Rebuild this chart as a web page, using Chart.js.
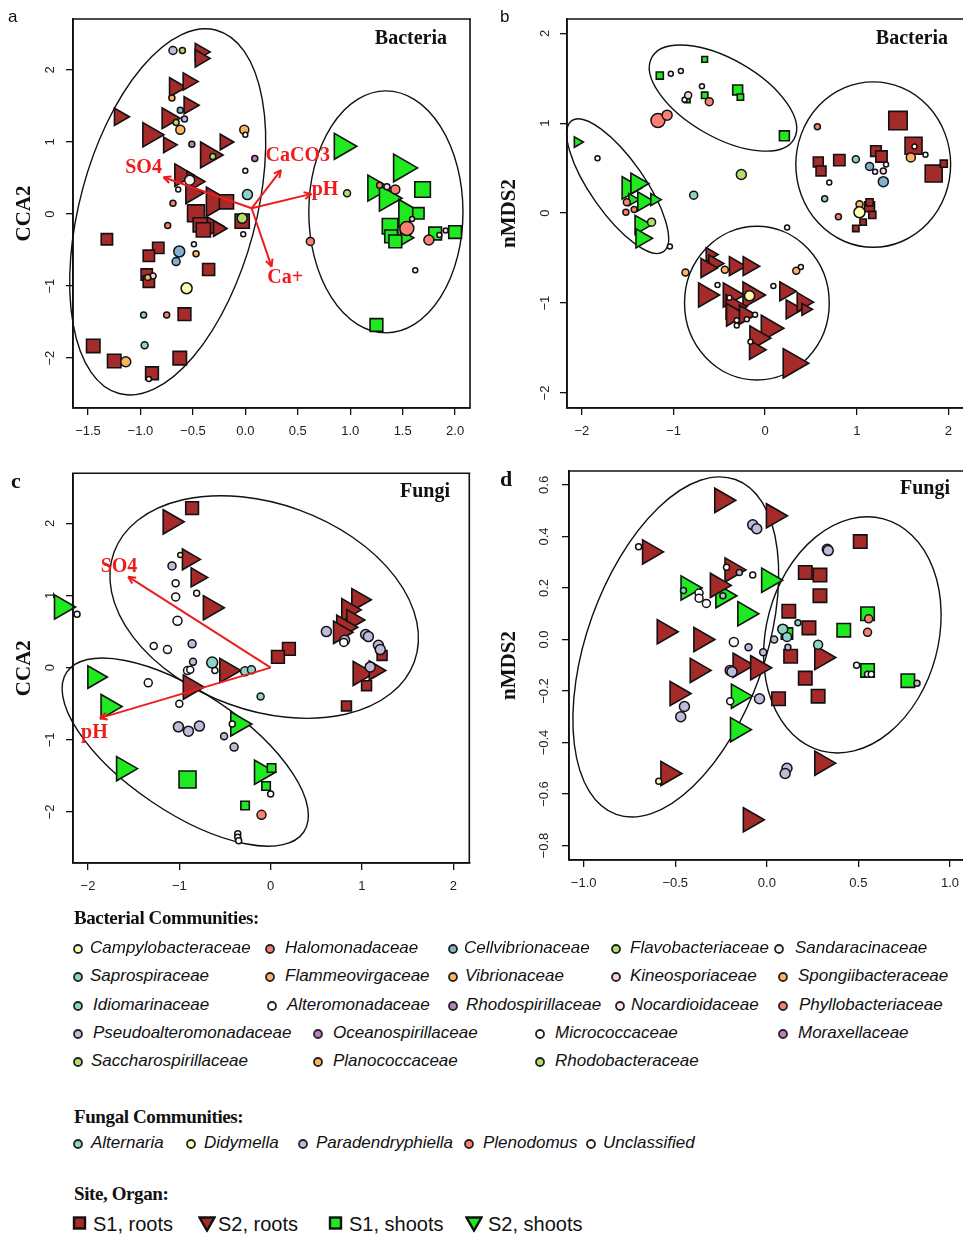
<!DOCTYPE html>
<html>
<head>
<meta charset="utf-8">
<script src="https://cdn.jsdelivr.net/npm/chart.js@4.4.1/dist/chart.umd.min.js"></script>
<style>
  html, body { margin: 0; padding: 0; background: #fff; overflow: hidden; }
  body { position: relative; width: 963px; height: 1235px; }
  canvas { position: absolute; }
  .tag { position: absolute; line-height: 1; color: #111; }
  .sans { font-family: 'Liberation Sans', Arial, sans-serif; }
  .serifb { font-family: 'Liberation Serif', 'Times New Roman', serif; font-weight: bold; }
  .head { position: absolute; left: 74px; font-family: 'Liberation Serif', serif; font-weight: bold;
          font-size: 19px; letter-spacing: -0.4px; color: #111; transform: translateY(-50%); white-space: nowrap; }
  .item { position: absolute; font-family: 'Liberation Sans', Arial, sans-serif; font-style: italic;
          font-size: 17px; color: #111; transform: translateY(-50%); white-space: nowrap; }
  .site { position: absolute; font-family: 'Liberation Sans', Arial, sans-serif;
          font-size: 20px; color: #111; transform: translateY(-50%); white-space: nowrap; }
  .glyph { position: absolute; transform: translateY(-50%); }
</style>
</head>
<body>
<canvas id="pa" width="480" height="455" style="left:0;top:0"></canvas>
<canvas id="pb" width="483" height="455" style="left:480px;top:0"></canvas>
<canvas id="pc" width="480" height="455" style="left:0;top:455px"></canvas>
<canvas id="pd" width="483" height="455" style="left:480px;top:455px"></canvas>
<div class="tag sans" style="left:8px;top:8px;font-size:17px">a</div>
<div class="tag sans" style="left:500px;top:8px;font-size:17px">b</div>
<div class="tag serifb" style="left:11px;top:470px;font-size:22px">c</div>
<div class="tag serifb" style="left:500px;top:468px;font-size:22px">d</div>
<div id="legend"></div>
<script>
// ---------- colours ----------
const BROWN = '#A52A2A';
const GREEN = '#1FEA1F';
const famColors = {
  Campylobacteraceae: '#FFFFB3', Halomonadaceae: '#FB8072', Cellvibrionaceae: '#80B1D3',
  Flavobacteriaceae: '#B3DE69', Sandaracinaceae: '#F2F2F2', Saprospiraceae: '#8DD3C7',
  Flammeovirgaceae: '#FDB462', Vibrionaceae: '#FDB462', Kineosporiaceae: '#FCCDE5',
  Spongiibacteraceae: '#FDB462', Idiomarinaceae: '#8DD3C7', Alteromonadaceae: '#FFFFFF',
  Rhodospirillaceae: '#BC80BD', Nocardioidaceae: '#FDE6F1', Phyllobacteriaceae: '#FB8072',
  Pseudoalteromonadaceae: '#BEBADA', Oceanospirillaceae: '#BC80BD', Micrococcaceae: '#FFFFFF',
  Moraxellaceae: '#BC80BD', Saccharospirillaceae: '#B3DE69', Planococcaceae: '#FDB462',
  Rhodobacteraceae: '#B3DE69',
  Alternaria: '#8DD3C7', Didymella: '#FFFFB3', Paradendryphiella: '#BEBADA',
  Plenodomus: '#FB8072', Unclassified: '#FFFFFF'
};

// ---------- panel a : CCA, bacteria ----------
const aXTicks = [-1.5, -1, -0.5, 0, 0.5, 1, 1.5, 2];
const aXLabels = ['\u22121.5', '\u22121.0', '\u22120.5', '0.0', '0.5', '1.0', '1.5', '2.0'];
const aYTicks = [-2, -1, 0, 1, 2];
const aYLabels = ['\u22122', '\u22121', '0', '1', '2'];
const aS1Roots = [[-0.18,0.17],[-0.47,0.01],[-0.43,-0.15],[-0.40,-0.22],[-0.03,-0.10],[-1.32,-0.35],[-0.83,-0.47],
  [-0.92,-0.58],[-0.35,-0.77],[-0.94,-0.84],[-0.92,-0.94],[-0.58,-1.39],[-1.45,-1.83],[-1.25,-2.04],[-0.625,-2.00],[-0.89,-2.21]];
const aS2Roots = [[-0.43,2.25],[-0.43,2.16],[-0.67,1.76],[-0.545,1.84],[-0.536,1.51],[-1.20,1.35],[-0.736,1.33],[-0.91,1.10],
  [-0.736,0.96],[-0.196,1.00],[-0.355,0.82],[-0.61,0.54],[-0.50,0.45],[-0.51,0.29],[-0.29,0.17],[-0.31,-0.17],[-0.26,-0.20]];
const aS1Shoots = [[1.69,0.34],[1.65,0.01],[1.38,-0.17],[1.39,-0.31],[1.43,-0.38],[1.81,-0.27],[2.00,-0.25],[1.25,-1.54]];
const aS2Shoots = [[0.92,0.94],[1.49,0.64],[1.24,0.36],[1.35,0.22],[1.54,0.01],[1.52,-0.33]];
const aCircles = [[-0.69,2.27,'Pseudoalteromonadaceae'],[-0.60,2.27,'Flavobacteriaceae'],[-0.70,1.61,'Planococcaceae'],
  [-0.62,1.44,'Cellvibrionaceae'],[-0.58,1.32,'Pseudoalteromonadaceae'],[-0.66,1.27,'Flavobacteriaceae'],
  [-0.62,1.17,'Flammeovirgaceae'],[-0.01,1.17,'Flammeovirgaceae'],[0.00,1.10,'Micrococcaceae'],[-0.51,0.97,'Rhodospirillaceae'],
  [-0.31,0.80,'Flavobacteriaceae'],[0.09,0.77,'Rhodospirillaceae'],[0.00,0.60,'Micrococcaceae'],[-0.53,0.47,'Sandaracinaceae'],
  [-0.64,0.34,'Micrococcaceae'],[0.02,0.27,'Saprospiraceae'],[-0.69,0.15,'Halomonadaceae'],[-0.03,-0.06,'Flavobacteriaceae'],
  [-0.74,-0.16,'Halomonadaceae'],[-0.02,-0.28,'Micrococcaceae'],[-0.49,-0.42,'Micrococcaceae'],[-0.63,-0.52,'Cellvibrionaceae'],
  [-0.47,-0.55,'Spongiibacteraceae'],[-0.66,-0.66,'Cellvibrionaceae'],[-0.88,-0.86,'Kineosporiaceae'],[-0.93,-0.88,'Vibrionaceae'],
  [-0.56,-1.03,'Campylobacteraceae'],[-0.97,-1.40,'Idiomarinaceae'],[-0.75,-1.40,'Halomonadaceae'],[-0.96,-1.82,'Idiomarinaceae'],
  [-1.14,-2.05,'Vibrionaceae'],[-0.92,-2.29,'Micrococcaceae'],[0.97,0.29,'Saccharospirillaceae'],[1.28,0.40,'Phyllobacteriaceae'],
  [1.35,0.38,'Kineosporiaceae'],[1.43,0.34,'Halomonadaceae'],[0.62,-0.38,'Halomonadaceae'],[1.54,-0.20,'Halomonadaceae'],
  [1.59,-0.07,'Kineosporiaceae'],[1.75,-0.36,'Phyllobacteriaceae'],[1.85,-0.29,'Nocardioidaceae'],[1.91,-0.23,'Kineosporiaceae'],
  [1.62,-0.78,'Micrococcaceae']];
const aArrowOrigin = [0.06, 0.08];
const aArrows = [['SO4', -0.78, 0.51, -0.97, 0.64], ['CaCO3', 0.34, 0.61, 0.50, 0.81],
  ['pH', 0.63, 0.28, 0.76, 0.33], ['Ca+', 0.25, -0.73, 0.38, -0.88]];
const aEllipses = [[-0.74, 0.03, 0.84, 2.61, 15], [1.34, 0.03, 0.735, 1.68, 0]];

// ---------- panel b : nMDS, bacteria ----------
const bXTicks = [-2, -1, 0, 1, 2];
const bXLabels = ['\u22122', '\u22121', '0', '1', '2'];
const bYTicks = [-2, -1, 0, 1, 2];
const bYLabels = ['\u22122', '\u22121', '0', '1', '2'];
const bS1Roots = [[1.45,1.03],[1.62,0.75],[1.84,0.44],[1.95,0.55],[0.58,0.57],[0.61,0.47],[0.81,0.59],[1.21,0.69],
  [1.27,0.63],[1.14,0.07],[1.14,0.12],[1.17,-0.02],[1.07,-0.10],[0.99,-0.17]];
const bS2Roots = [[-0.60,-0.46],[-0.56,-0.56],[-0.64,-0.61],[-0.33,-0.59],[-0.18,-0.59],[-0.65,-0.91],[-0.38,-0.91],
  [-0.16,-0.91],[-0.35,-1.04],[-0.35,-1.13],[-0.22,-1.13],[0.22,-0.87],[0.29,-1.07],[0.41,-0.99],[0.44,-1.07],
  [0.04,-1.28],[-0.09,-1.39],[-0.11,-1.52],[0.29,-1.67]];
const bS1Shoots = [[-1.15,1.53],[-0.66,1.71],[-0.85,1.26],[-0.66,1.31],[-0.30,1.37],[-0.27,1.29],[0.21,0.86]];
const bS2Shoots = [[-2.05,0.79],[-1.49,0.28],[-1.40,0.33],[-1.45,0.15],[-1.33,0.13],[-1.21,0.15],[-1.36,-0.13],[-1.35,-0.28]];
const bCircles = [[-1.83,0.61,'Micrococcaceae'],[-1.51,0.12,'Halomonadaceae'],[-1.52,0.01,'Halomonadaceae'],
  [-1.43,0.04,'Halomonadaceae'],[-1.24,-0.10,'Flavobacteriaceae'],[-1.04,-0.37,'Micrococcaceae'],[-1.03,1.55,'Micrococcaceae'],
  [-0.92,1.58,'Micrococcaceae'],[-0.88,1.26,'Micrococcaceae'],[-0.84,1.31,'Kineosporiaceae'],[-0.69,1.41,'Micrococcaceae'],
  [-0.61,1.24,'Halomonadaceae'],[-1.17,1.03,'Halomonadaceae'],[-1.07,1.09,'Halomonadaceae'],[-0.26,0.43,'Flavobacteriaceae'],
  [-0.78,0.20,'Saprospiraceae'],[0.57,0.96,'Halomonadaceae'],[0.99,0.60,'Saprospiraceae'],[1.14,0.52,'Cellvibrionaceae'],
  [1.20,0.46,'Micrococcaceae'],[1.29,0.47,'Kineosporiaceae'],[1.29,0.35,'Cellvibrionaceae'],[1.32,0.54,'Micrococcaceae'],
  [0.70,0.34,'Micrococcaceae'],[0.65,0.16,'Idiomarinaceae'],[0.80,-0.04,'Halomonadaceae'],[1.03,0.10,'Flammeovirgaceae'],
  [1.03,0.01,'Campylobacteraceae'],[1.59,0.62,'Flammeovirgaceae'],[1.63,0.74,'Micrococcaceae'],[1.75,0.65,'Micrococcaceae'],
  [-0.87,-0.66,'Flammeovirgaceae'],[-0.44,-0.63,'Flammeovirgaceae'],[-0.52,-0.80,'Micrococcaceae'],[-0.17,-0.92,'Campylobacteraceae'],
  [0.09,-0.81,'Micrococcaceae'],[0.34,-0.64,'Flammeovirgaceae'],[0.39,-0.60,'Micrococcaceae'],[0.24,-0.16,'Micrococcaceae'],
  [-0.39,-0.94,'Micrococcaceae'],[-0.31,-1.19,'Micrococcaceae'],[-0.20,-1.18,'Nocardioidaceae'],[-0.11,-1.13,'Micrococcaceae'],
  [-0.31,-1.25,'Micrococcaceae'],[-0.16,-1.43,'Micrococcaceae']];
const bEllipses = [[-1.61, 0.30, 0.873, 0.30, 55], [-0.46, 1.28, 0.895, 0.433, 30],
  [1.18, 0.54, 0.845, 0.92, 0], [-0.09, -1.0, 0.79, 0.855, 0]];

// ---------- panel c : CCA, fungi ----------
const cXTicks = [-2, -1, 0, 1, 2];
const cXLabels = ['\u22122', '\u22121', '0', '1', '2'];
const cYTicks = [-2, -1, 0, 1, 2];
const cYLabels = ['\u22122', '\u22121', '0', '1', '2'];
const cS1Roots = [[-0.86,2.21],[0.20,0.26],[0.08,0.15],[1.22,0.17],[1.05,-0.25],[0.83,-0.53]];
const cS2Roots = [[-1.10,2.02],[-0.90,1.50],[-0.81,1.25],[-0.66,0.83],[0.96,0.94],[0.85,0.80],[0.90,0.66],[0.80,0.56],
  [0.76,0.49],[-0.48,-0.04],[-0.88,-0.27],[0.98,-0.08],[1.14,-0.04]];
const cS1Shoots = [[-0.91,-1.55],[0.01,-1.39],[-0.05,-1.64],[-0.28,-1.91]];
const cS2Shoots = [[-2.29,0.84],[-1.93,-0.13],[-1.78,-0.54],[-1.61,-1.40],[-0.36,-0.78],[-0.10,-1.45]];
const cCircles = [[-0.99,1.56,'Didymella'],[-1.08,1.41,'Paradendryphiella'],[-1.04,1.17,'Unclassified'],[-1.04,0.98,'Unclassified'],
  [-0.81,1.03,'Unclassified'],[-1.02,0.65,'Unclassified'],[-1.28,0.30,'Unclassified'],[-1.13,0.25,'Unclassified'],
  [-0.86,0.33,'Paradendryphiella'],[-0.85,0.08,'Paradendryphiella'],[-0.91,-0.04,'Unclassified'],[-0.88,-0.03,'Unclassified'],
  [-0.64,0.07,'Alternaria'],[-0.61,-0.04,'Unclassified'],[-0.28,-0.05,'Alternaria'],[-0.21,-0.03,'Alternaria'],
  [-0.11,-0.40,'Alternaria'],[-1.34,-0.21,'Unclassified'],[-1.00,-0.50,'Unclassified'],[-1.01,-0.82,'Paradendryphiella'],
  [-0.90,-0.88,'Paradendryphiella'],[-0.78,-0.81,'Paradendryphiella'],[-0.51,-0.95,'Paradendryphiella'],[-0.40,-1.10,'Paradendryphiella'],
  [-0.42,-0.78,'Unclassified'],[0.00,-1.75,'Unclassified'],[-0.10,-2.04,'Plenodomus'],[-0.36,-2.30,'Unclassified'],
  [-0.36,-2.35,'Unclassified'],[-0.35,-2.40,'Unclassified'],[-2.12,0.74,'Unclassified'],[0.61,0.50,'Paradendryphiella'],
  [0.81,0.38,'Paradendryphiella'],[1.04,0.46,'Paradendryphiella'],[1.07,0.43,'Paradendryphiella'],[1.18,0.31,'Paradendryphiella'],
  [1.20,0.25,'Paradendryphiella'],[1.09,0.01,'Paradendryphiella'],[0.80,0.35,'Unclassified']];
const cArrowOrigin = [0, 0];
const cArrows = [['SO4', -1.56, 1.26, -1.66, 1.40], ['pH', -1.87, -0.70, -1.93, -0.91]];
const cEllipses = [[-0.071, 0.84, 1.75, 1.43, 20], [-0.935, -1.17, 1.565, 0.83, 34]];

// ---------- panel d : nMDS, fungi ----------
const dXTicks = [-1, -0.5, 0, 0.5, 1];
const dXLabels = ['\u22121.0', '\u22120.5', '0.0', '0.5', '1.0'];
const dYTicks = [-0.8, -0.6, -0.4, -0.2, 0, 0.2, 0.4, 0.6];
const dYLabels = ['\u22120.8', '\u22120.6', '\u22120.4', '\u22120.2', '0.0', '0.2', '0.4', '0.6'];
const dS1Roots = [[0.51,0.38],[0.21,0.26],[0.29,0.25],[0.29,0.17],[0.12,0.11],[0.23,0.045],[0.13,-0.065],[0.21,-0.15],
  [0.28,-0.22],[0.064,-0.23]];
const dS2Roots = [[-0.246,0.54],[0.036,0.48],[-0.64,0.34],[-0.19,0.27],[-0.27,0.21],[-0.56,0.03],[-0.36,0.00],[-0.38,-0.12],
  [-0.49,-0.21],[-0.146,-0.10],[-0.05,-0.11],[0.30,-0.07],[-0.54,-0.52],[0.30,-0.48],[-0.09,-0.70]];
const dS1Shoots = [[0.55,0.10],[0.42,0.036],[0.55,-0.12],[0.77,-0.16],[0.11,0.023]];
const dS2Shoots = [[-0.43,0.20],[-0.24,0.17],[0.01,0.23],[-0.12,0.10],[-0.155,-0.22],[-0.16,-0.35]];
const dCircles = [[-0.077,0.445,'Paradendryphiella'],[-0.055,0.43,'Paradendryphiella'],[0.33,0.35,'Paradendryphiella'],
  [0.335,0.345,'Paradendryphiella'],[0.04,0.00,'Paradendryphiella'],[-0.10,-0.03,'Paradendryphiella'],[-0.02,-0.05,'Paradendryphiella'],
  [0.115,-0.03,'Paradendryphiella'],[-0.20,-0.12,'Paradendryphiella'],[-0.19,-0.125,'Paradendryphiella'],[-0.04,-0.23,'Paradendryphiella'],
  [-0.45,-0.26,'Paradendryphiella'],[-0.47,-0.30,'Paradendryphiella'],[0.11,-0.50,'Paradendryphiella'],[0.10,-0.52,'Paradendryphiella'],
  [-0.15,0.26,'Paradendryphiella'],[0.82,-0.17,'Paradendryphiella'],[0.087,0.04,'Alternaria'],[0.11,0.01,'Alternaria'],
  [0.17,0.065,'Alternaria'],[0.28,-0.02,'Alternaria'],[-0.24,0.17,'Alternaria'],[-0.455,0.19,'Alternaria'],
  [-0.70,0.36,'Unclassified'],[-0.22,0.28,'Unclassified'],[-0.077,0.25,'Unclassified'],[-0.37,0.18,'Unclassified'],
  [-0.37,0.16,'Unclassified'],[-0.33,0.14,'Unclassified'],[-0.18,-0.01,'Unclassified'],[-0.20,-0.24,'Unclassified'],
  [0.49,-0.10,'Unclassified'],[0.55,-0.135,'Unclassified'],[0.57,-0.135,'Unclassified'],[-0.59,-0.55,'Didymella'],
  [0.556,0.08,'Plenodomus'],[0.55,0.028,'Plenodomus']];
const dEllipses = [[-0.497, -0.029, 0.486, 0.69, 19.6], [0.467, 0.018, 0.47, 0.466, 15]];

// ---------- marker sizes (px) ----------
const aSizes = {
  s1r: [10,12,10,10,10,8,8,8,8.5,8,8,9,9.5,9.5,9.5,9],
  s2r: [10,10,11,10,10,10,12,14,9,9,15,13,12,12,17,11,9],
  s1s: [11,8,11,9,9,9,9,9],
  s2s: [15,16,15,15,16,9],
  circ: [4,3,3,3,3,3,4.5,4.5,2.5,3,3,3,2.5,5,2.5,5,3,5,3,2.5,2.5,5.5,3,4,3,3,5.5,3,3,3.5,5,2.5,3.5,3,3,4.5,4,7,2.5,5,2.5,2.5,2.5]
};
const bSizes = {
  s1r: [13,12,12,5,7,7,8,7.5,8,7,5,5,4.5,4.5],
  s2r: [8,10,11,11,11,14,14,15,14,13,11,11,11,11,7,15,14,11,17],
  s1s: [5,4,4,4.5,7,4.5,7],
  s2s: [6,13,12,7,11,7,11,11],
  circ: [2.5,3.5,3,3,4,2.5,2.5,2.5,2.5,3.5,2.5,4,7,5,5,4,3,3.5,4,2.5,3,5,2.5,2.5,3,3,3.5,5.5,4.5,2.5,2.5,3.5,3.5,2.5,5,2.5,3.5,2.5,2.5,2.5,2.5,2.5,2.5,2.5,2.5]
};
const cSizes = {
  s1r: [9,9,9,7,7,7],
  s2r: [14,12,11,14,13,13,12,14,13,14,14,14,11],
  s1s: [12,6,6,6],
  s2s: [14,13,14,14,14,14],
  circ: [2.5,4,3.5,4,3,4.5,3.5,4,4,3.5,4,3.5,5.5,3,4.5,4,3.5,4,3.5,5,5,5,3.5,4,3,3,4.5,3,3,3,3,5,5,5,5,5,5,5,4]
};
const dSizes = {
  s1r: [9.5,9.5,9.5,9.5,9.5,9.5,9.5,9.5,9.5,9.5],
  s2r: [14,14,14,14,14,14,14,14,14,14,14,14,14,14,14],
  s1s: [9.5,9.5,9.5,9.5,8],
  s2s: [14,14,14,14,14,14],
  circ: [5,5,5,5,3.5,3.5,3.5,3,5,5,5,5,5,5,5,3,3,5,4.5,3,4.5,3,3,3,3,3,4,4,4,4.5,3.5,3,3,3,3,4,4]
};

// ---------- plugin: ellipses, arrows, frame, panel title ----------
const decor = {
  id: 'decor',
  beforeDatasetsDraw(chart, args, o) {
    const {ctx, scales: {x, y}} = chart;
    const px = Math.abs(x.getPixelForValue(1) - x.getPixelForValue(0));
    const py = Math.abs(y.getPixelForValue(1) - y.getPixelForValue(0));
    ctx.save();
    ctx.strokeStyle = '#111';
    ctx.lineWidth = 1.4;
    for (const e of o.ellipses) {
      ctx.beginPath();
      ctx.ellipse(x.getPixelForValue(e[0]), y.getPixelForValue(e[1]), e[2] * px, e[3] * py,
        e[4] * Math.PI / 180, 0, Math.PI * 2);
      ctx.stroke();
    }
    ctx.restore();
  },
  afterDatasetsDraw(chart, args, o) {
    const {ctx, chartArea: ca, scales: {x, y}} = chart;
    ctx.save();
    // arrow heads + labels
    if (o.arrows) {
      const ox = x.getPixelForValue(o.origin[0]), oy = y.getPixelForValue(o.origin[1]);
      ctx.strokeStyle = '#EE1C1C';
      ctx.fillStyle = '#EE1C1C';
      ctx.lineWidth = 2;
      ctx.font = 'bold 20px "Liberation Serif", serif';
      ctx.textAlign = 'center';
      ctx.textBaseline = 'middle';
      for (const a of o.arrows) {
        const tx = x.getPixelForValue(a[1]), ty = y.getPixelForValue(a[2]);
        const ang = Math.atan2(ty - oy, tx - ox);
        ctx.beginPath();
        for (const s of [-1, 1]) {
          ctx.moveTo(tx, ty);
          ctx.lineTo(tx - 8 * Math.cos(ang + s * 0.45), ty - 8 * Math.sin(ang + s * 0.45));
        }
        ctx.stroke();
        ctx.fillText(a[0], x.getPixelForValue(a[3]), y.getPixelForValue(a[4]));
      }
    }
    // R style frame
    ctx.strokeStyle = '#111';
    ctx.lineWidth = 1.6;
    ctx.beginPath();
    ctx.moveTo(ca.right + 1, ca.top);
    ctx.lineTo(ca.left, ca.top);
    ctx.lineTo(ca.left, ca.bottom);
    ctx.lineTo(ca.right + 1, ca.bottom);
    if (o.closed) { ctx.moveTo(ca.right, ca.top); ctx.lineTo(ca.right, ca.bottom); }
    ctx.stroke();
    // panel title
    ctx.fillStyle = '#111';
    ctx.font = 'bold 20px "Liberation Serif", serif';
    ctx.textAlign = 'right';
    ctx.textBaseline = 'middle';
    ctx.fillText(o.title, o.titleX, o.titleY);
    ctx.restore();
  }
};

function pts(arr) { return arr.map(p => ({x: p[0], y: p[1]})); }

function shape(arr, r, style, fill) {
  return {
    data: pts(arr), pointStyle: style, pointRadius: r, pointHoverRadius: r,
    pointRotation: style === 'triangle' ? 90 : 0,
    pointBackgroundColor: fill, pointBorderColor: '#111', pointBorderWidth: 1.6,
    showLine: false, clip: false, order: 3
  };
}

function makePanel(id, p) {
  const ds = [];
  if (p.arrows) {
    for (const a of p.arrows) {
      ds.push({data: [{x: p.origin[0], y: p.origin[1]}, {x: a[1], y: a[2]}], showLine: true,
        borderColor: '#EE1C1C', borderWidth: 2, pointRadius: 0, order: 0, clip: false});
    }
  }
  ds.push({
    data: pts(p.circles), pointStyle: 'circle', pointRadius: p.sizes.circ, pointHoverRadius: p.sizes.circ,
    pointBackgroundColor: p.circles.map(c => famColors[c[2]]), pointBorderColor: '#111', pointBorderWidth: 1.5,
    showLine: false, clip: false, order: 1
  });
  ds.push(shape(p.s1r, p.sizes.s1r, 'rect', BROWN));
  ds.push(shape(p.s2r, p.sizes.s2r, 'triangle', BROWN));
  ds.push(shape(p.s1s, p.sizes.s1s, 'rect', GREEN));
  ds.push(shape(p.s2s, p.sizes.s2s, 'triangle', GREEN));

  const tickFont = {family: "'Liberation Sans', Arial, sans-serif", size: 13};
  new Chart(document.getElementById(id), {
    type: 'scatter',
    data: {datasets: ds},
    options: {
      responsive: false, animation: false, devicePixelRatio: 1,
      events: [],
      layout: {autoPadding: false, padding: {top: p.padTop, right: p.padRight, left: 0, bottom: 0}},
      plugins: {
        legend: {display: false}, tooltip: {enabled: false},
        decor: {ellipses: p.ellipses, arrows: p.arrows, origin: p.origin, closed: p.closed,
          title: p.title, titleX: p.titleX, titleY: p.titleY}
      },
      scales: {
        x: {
          type: 'linear', min: p.xRange[0], max: p.xRange[1],
          afterBuildTicks: s => { s.ticks = p.xTicks.map(v => ({value: v})); },
          afterFit: s => { s.height = p.xH; s.paddingLeft = 0; s.paddingRight = 0; },
          ticks: {callback: (v, i) => p.xLabels[i], autoSkip: false, maxRotation: 0, padding: 9,
            font: tickFont, color: '#222'},
          grid: {drawOnChartArea: false, drawTicks: true, tickLength: 7, tickColor: '#111', lineWidth: 1.3},
          border: {display: true, color: '#111', width: 1.6}
        },
        y: {
          type: 'linear', min: p.yRange[0], max: p.yRange[1],
          afterBuildTicks: s => { s.ticks = p.yTicks.map(v => ({value: v})); },
          afterFit: s => { s.width = p.yW; s.paddingTop = 0; s.paddingBottom = 0; },
          ticks: {callback: (v, i) => p.yLabels[i], autoSkip: false, minRotation: 90, maxRotation: 90,
            crossAlign: 'center', padding: p.yPad, font: tickFont, color: '#222'},
          grid: {drawOnChartArea: false, drawTicks: true, tickLength: 7, tickColor: '#111', lineWidth: 1.3},
          border: {display: true, color: '#111', width: 1.6},
          title: {display: true, text: p.yTitle, color: '#111',
            font: {family: "'Liberation Serif', serif", size: 21, weight: 'bold'},
            padding: {top: p.titlePad, bottom: 0}}
        }
      }
    },
    plugins: [decor]
  });
}

makePanel('pa', {
  s1r: aS1Roots, s2r: aS2Roots, s1s: aS1Shoots, s2s: aS2Shoots, circles: aCircles, sizes: aSizes,
  arrows: aArrows, origin: aArrowOrigin, ellipses: aEllipses,
  xTicks: aXTicks, xLabels: aXLabels, yTicks: aYTicks, yLabels: aYLabels,
  xRange: [-1.643, 2.142], yRange: [-2.692, 2.707],
  padTop: 19, padRight: 10, xH: 47, yW: 73, yPad: 8.6, titlePad: 12.4, yTitle: 'CCA2',
  closed: true, title: 'Bacteria', titleX: 447, titleY: 39
});
makePanel('pb', {
  s1r: bS1Roots, s2r: bS2Roots, s1s: bS1Shoots, s2s: bS2Shoots, circles: bCircles, sizes: bSizes,
  arrows: null, origin: null, ellipses: bEllipses,
  xTicks: bXTicks, xLabels: bXLabels, yTicks: bYTicks, yLabels: bYLabels,
  xRange: [-2.163, 2.160], yRange: [-2.167, 2.159],
  padTop: 19, padRight: 0, xH: 47, yW: 87, yPad: 7.3, titlePad: 17.4, yTitle: 'nMDS2',
  closed: false, title: 'Bacteria', titleX: 468, titleY: 39
});
makePanel('pc', {
  s1r: cS1Roots, s2r: cS2Roots, s1s: cS1Shoots, s2s: cS2Shoots, circles: cCircles, sizes: cSizes,
  arrows: cArrows, origin: cArrowOrigin, ellipses: cEllipses,
  xTicks: cXTicks, xLabels: cXLabels, yTicks: cYTicks, yLabels: cYLabels,
  xRange: [-2.164, 2.175], yRange: [-2.707, 2.693],
  padTop: 18.3, padRight: 10.7, xH: 47, yW: 73, yPad: 8.3, titlePad: 12.4, yTitle: 'CCA2',
  closed: true, title: 'Fungi', titleX: 450, titleY: 37
});
makePanel('pd', {
  s1r: dS1Roots, s2r: dS2Roots, s1s: dS1Shoots, s2s: dS2Shoots, circles: dCircles, sizes: dSizes,
  arrows: null, origin: null, ellipses: dEllipses,
  xTicks: dXTicks, xLabels: dXLabels, yTicks: dYTicks, yLabels: dYLabels,
  xRange: [-1.080, 1.071], yRange: [-0.856, 0.654],
  padTop: 16, padRight: 0, xH: 50, yW: 89, yPad: 4.5, titlePad: 17.4, yTitle: 'nMDS2',
  closed: false, title: 'Fungi', titleX: 470, titleY: 34
});

// ---------- legends ----------
const bactFamilies = ['Campylobacteraceae','Halomonadaceae','Cellvibrionaceae','Flavobacteriaceae','Sandaracinaceae',
  'Saprospiraceae','Flammeovirgaceae','Vibrionaceae','Kineosporiaceae','Spongiibacteraceae',
  'Idiomarinaceae','Alteromonadaceae','Rhodospirillaceae','Nocardioidaceae','Phyllobacteriaceae',
  'Pseudoalteromonadaceae','Oceanospirillaceae','Micrococcaceae','Moraxellaceae',
  'Saccharospirillaceae','Planococcaceae','Rhodobacteraceae'];
const fungalGenera = ['Alternaria','Didymella','Paradendryphiella','Plenodomus','Unclassified'];
const siteOrgans = ['S1, roots','S2, roots','S1, shoots','S2, shoots'];

// layout of legend entries: [glyph centre x, text left x, centre y]
const bactPos = [[78,90,948],[270,285,948],[453,464,948],[616,630,948],[779,795,948],
  [78,90,976],[270,285,976],[453,465,976],[616,630,976],[783,798,976],
  [78,93,1005],[272,287,1005],[453,466,1005],[620,631,1005],[783,799,1005],
  [78,93,1033],[318,333,1033],[540,555,1033],[783,798,1033],
  [78,91,1061],[318,333,1061],[540,555,1061]];
const fungPos = [[78,91,1143],[191,204,1143],[303,316,1143],[469,483,1143],[591,603,1143]];
const sitePos = [[80,93,1224],[206,218,1224],[336,349,1224],[473,488,1224]];

const leg = document.getElementById('legend');
function add(html) { leg.insertAdjacentHTML('beforeend', html); }
function dot(cx, cy, col) {
  add(`<svg class="glyph" style="left:${cx - 6}px;top:${cy + 1}px" width="12" height="12">` +
      `<circle cx="6" cy="6" r="4" fill="${col}" stroke="#222" stroke-width="1.8"/></svg>`);
}
add('<div class="head" style="top:918px">Bacterial Communities:</div>');
bactFamilies.forEach((f, i) => {
  const [gx, tx, cy] = bactPos[i];
  dot(gx, cy, famColors[f]);
  add(`<div class="item" style="left:${tx}px;top:${cy}px">${f}</div>`);
});
add('<div class="head" style="top:1117px">Fungal Communities:</div>');
fungalGenera.forEach((f, i) => {
  const [gx, tx, cy] = fungPos[i];
  dot(gx, cy, famColors[f]);
  add(`<div class="item" style="left:${tx}px;top:${cy}px">${f}</div>`);
});
add('<div class="head" style="top:1194px">Site, Organ:</div>');
const siteFills = [BROWN, BROWN, GREEN, GREEN];
siteOrgans.forEach((s, i) => {
  const [gx, tx, cy] = sitePos[i];
  const g = i % 2 === 0
    ? `<rect x="2" y="2" width="11" height="11" fill="${siteFills[i]}" stroke="#111" stroke-width="2.4"/>`
    : `<polygon points="1.5,2 16.5,2 9,15" fill="${siteFills[i]}" stroke="#111" stroke-width="2.4" stroke-linejoin="miter"/>`;
  add(`<svg class="glyph" style="left:${gx - 8}px;top:${cy}px" width="18" height="17">${g}</svg>`);
  add(`<div class="site" style="left:${tx}px;top:${cy}px">${s}</div>`);
});
</script>
</body>
</html>
